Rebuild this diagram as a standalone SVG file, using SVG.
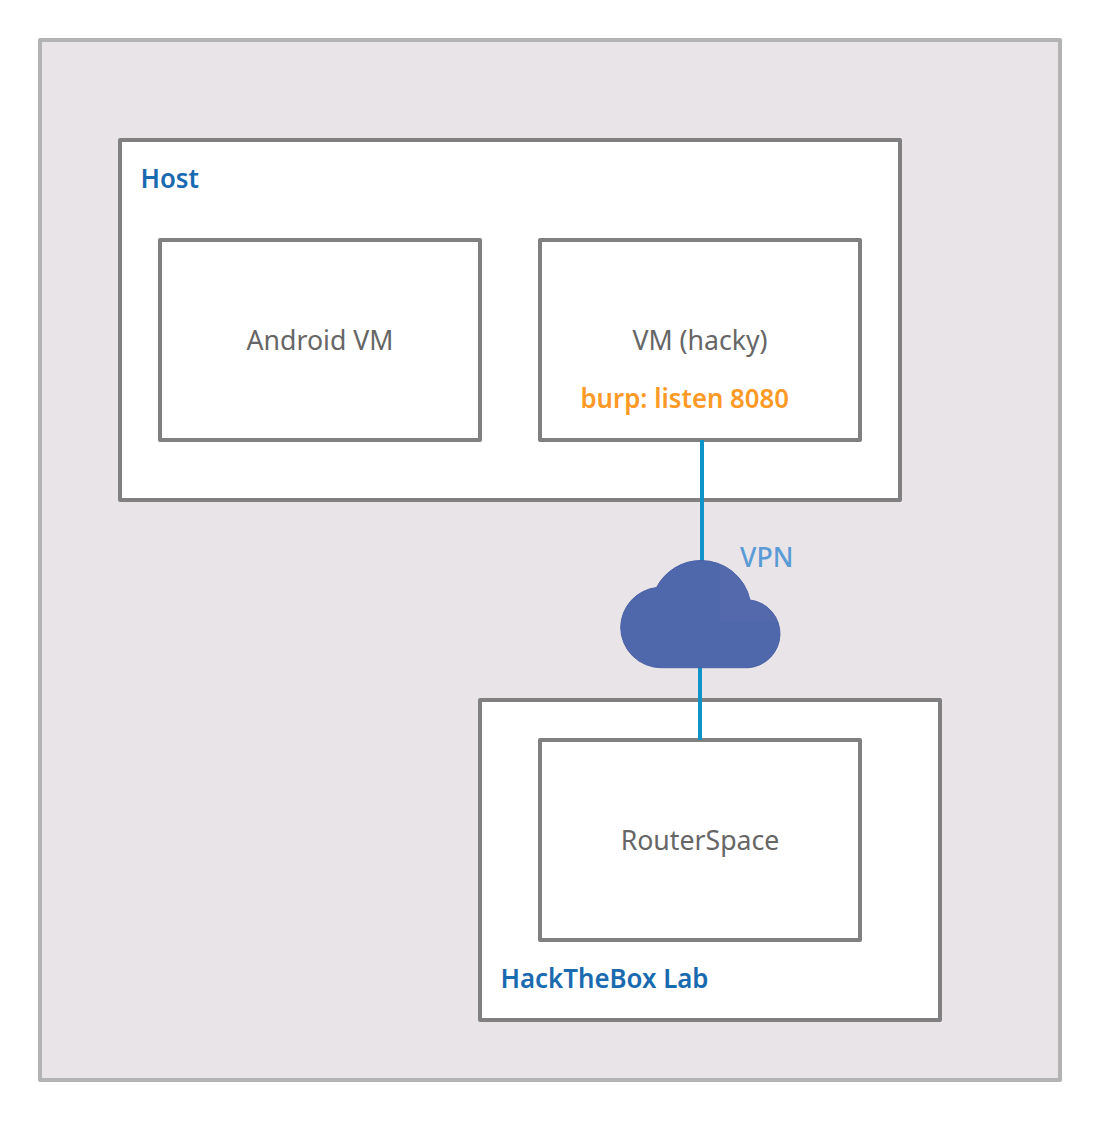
<svg xmlns="http://www.w3.org/2000/svg" width="1100" height="1121" viewBox="0 0 1100 1121">
<style>
.box{fill:#fff;stroke:#808080;stroke-width:4;stroke-linejoin:round}
.t{font-family:"Noto Sans","Open Sans",sans-serif;font-size:26.67px;fill:#666;text-anchor:middle}
.b{font-family:"Noto Sans","Open Sans",sans-serif;font-size:26.67px;font-weight:600;fill:#1a6ab0}
.c{fill:none;stroke:#0f94c9;stroke-width:4}
</style>
<defs><clipPath id="cloudclip"><path d="M656.5 587.5A50 50 0 0 1 701 560.5A50 50 0 0 1 750 600A34 34 0 0 1 748 667.7H661.2A40.5 40.5 0 0 1 620.7 627.2A40.5 40.5 0 0 1 656.5 587.5Z"/></clipPath></defs>
<rect width="1100" height="1121" fill="#fff"/>
<g id="outer"><rect x="40" y="40" width="1020" height="1040" fill="#e9e4e8" stroke="#b3b3b3" stroke-width="4" stroke-linejoin="round"/></g>
<g id="host"><rect class="box" x="120" y="140" width="780" height="360"/><text class="b" x="140.5" y="187.5" textLength="58.5" lengthAdjust="spacingAndGlyphs">Host</text></g>
<g id="android"><rect class="box" x="160" y="240" width="320" height="200"/><text class="t" x="320" y="350">Android VM</text></g>
<g id="hacky"><rect class="box" x="540" y="240" width="320" height="200"/><text class="t" x="700" y="350">VM (hacky)</text><text x="580.5" y="407.5" textLength="208.5" lengthAdjust="spacingAndGlyphs" style="font-family:'Noto Sans','Open Sans',sans-serif;font-size:26.67px;font-weight:600;fill:#ff9a26">burp: listen 8080</text></g>
<g id="lab"><rect class="box" x="480" y="700" width="460" height="320"/><text class="b" x="500.5" y="987.5" textLength="208" lengthAdjust="spacingAndGlyphs">HackTheBox Lab</text></g>
<g id="routerspace"><rect class="box" x="540" y="740" width="320" height="200"/><text class="t" x="700" y="850">RouterSpace</text></g>
<g id="connectors"><path class="c" d="M702 440V562"/><path class="c" d="M700 666V740"/></g>
<g id="vpn"><path d="M656.5 587.5A50 50 0 0 1 701 560.5A50 50 0 0 1 750 600A34 34 0 0 1 748 667.7H661.2A40.5 40.5 0 0 1 620.7 627.2A40.5 40.5 0 0 1 656.5 587.5Z" fill="#4f67ab" stroke="#4860a6" stroke-width="1"/><rect x="720" y="540" width="80" height="82" fill="#5469ab" clip-path="url(#cloudclip)"/><text x="740" y="567" style="font-family:'Noto Sans','Open Sans',sans-serif;font-size:26.67px;font-weight:500;fill:#5b9bd5">VPN</text></g>
</svg>
